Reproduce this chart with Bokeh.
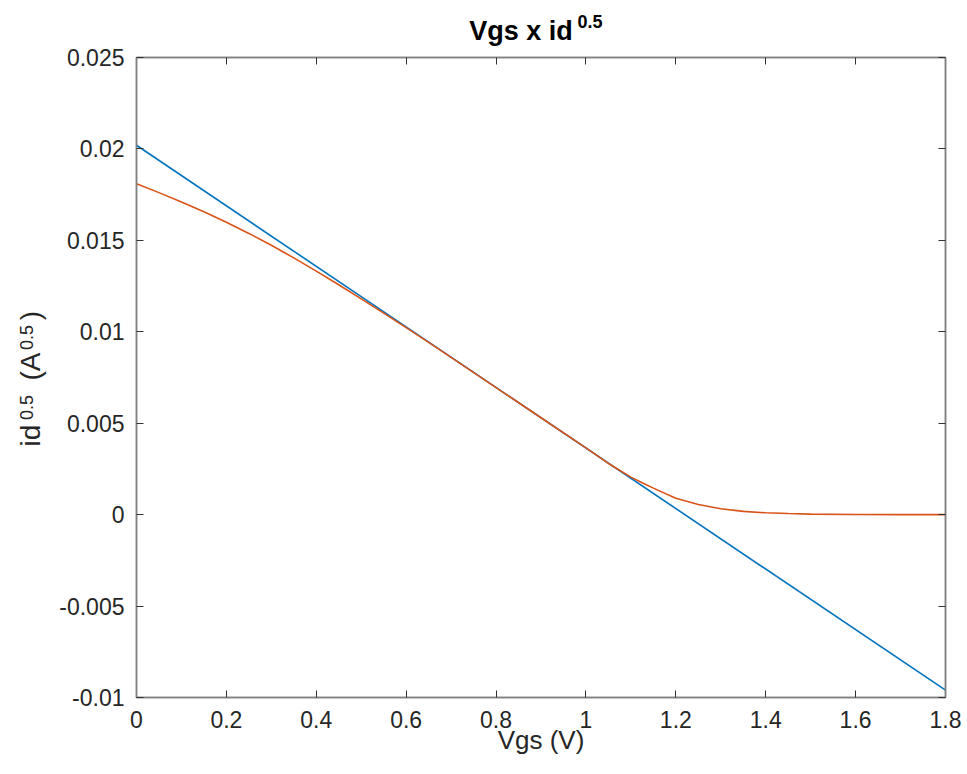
import math
from bokeh.plotting import figure
from bokeh.layouts import column, row
from bokeh.models import Range1d, FixedTicker, LinearAxis, CustomJSTickFormatter
from bokeh.core.properties import value
from bokeh.embed import file_html
from bokeh.resources import INLINE

# ---- data ----
vgs_blue = [0.0, 1.8]
id_blue = [0.0202, -0.0096]

vgs_red = [0.0, 0.05, 0.1, 0.15, 0.2, 0.25, 0.3, 0.35, 0.4, 0.45, 0.5, 0.55,
           0.6, 0.65, 0.7, 0.8, 0.9, 1.0, 1.05, 1.1, 1.125, 1.15, 1.2, 1.25,
           1.3, 1.35, 1.4, 1.45, 1.5, 1.6, 1.7, 1.8]
id_red = [0.0181, 0.01761, 0.01710, 0.01656, 0.01599, 0.01538, 0.01473,
          0.01404, 0.01332, 0.01257, 0.01180, 0.01102, 0.01023, 0.00942,
          0.0086, 0.00695, 0.0053, 0.00365, 0.0028, 0.00205, 0.00174,
          0.00145, 0.0009, 0.00055, 0.00032, 0.00018, 0.0001, 0.00006,
          0.00003, 0.00001, 0.0, 0.0]

x_ticks = [0.0, 0.2, 0.4, 0.6, 0.8, 1.0, 1.2, 1.4, 1.6, 1.8]
x_tick_labels = ["0", "0.2", "0.4", "0.6", "0.8", "1", "1.2", "1.4", "1.6", "1.8"]
y_ticks = [-0.01, -0.005, 0.0, 0.005, 0.01, 0.015, 0.02, 0.025]
y_tick_labels = ["-0.01", "-0.005", "0", "0.005", "0.01", "0.015", "0.02", "0.025"]

# ---- layout (page pixels) ----
PAGE_W, PAGE_H = 967, 774
FRAME_L, FRAME_T, FRAME_R, FRAME_B = 134, 57, 945, 697
TOP_H = 47          # title strip
LEFT_W = 56         # y-label strip
FONT = "Liberation Sans"
AX_GRAY = "#808080"
TXT = "#262626"

def text_strip(width, height, xr, yr):
    """A bare figure used only to hold text, in page-pixel coordinates."""
    f = figure(width=width, height=height, output_backend="svg",
               toolbar_location=None, x_axis_type=None, y_axis_type=None,
               x_range=Range1d(*xr), y_range=Range1d(*yr),
               min_border=0, title=None)
    f.grid.visible = False
    f.outline_line_color = None
    f.border_fill_color = "white"
    f.background_fill_color = "white"
    return f

# title strip: "Vgs x id" + superscript "0.5" (centre anchored)
top = text_strip(PAGE_W, TOP_H, (0, PAGE_W), (TOP_H, 0))
top.text(x=[520.5], y=[30.6], text=["Vgs x id"], text_font=value(FONT),
         text_font_size="27px", text_font_style="bold", text_color="#000000",
         text_align="center", text_baseline="middle")
top.text(x=[589.5], y=[20.5], text=["0.5"], text_font=value(FONT),
         text_font_size="18px", text_font_style="bold", text_color="#000000",
         text_align="center", text_baseline="middle")

# y-label strip: its frame is aligned with the main frame (rows align frames)
left = text_strip(LEFT_W, PAGE_H - TOP_H, (0, LEFT_W), (FRAME_B, FRAME_T))
rot = math.pi / 2
left.text(x=[29.5, 29.5, 29.5], y=[435, 366, 315], text=["id", "(A", ")"],
          text_font=value(FONT), text_font_size="28px", text_color=TXT,
          angle=rot, text_align="center", text_baseline="middle")
left.text(x=[26, 26], y=[407, 337], text=["0.5", "0.5"],
          text_font=value(FONT), text_font_size="18px", text_color=TXT,
          angle=rot, text_align="center", text_baseline="middle")

# main plot
X0, X1 = 0.0, 1.8
Y0, Y1 = -0.01, 0.025
p = figure(width=PAGE_W - LEFT_W, height=PAGE_H - TOP_H, output_backend="svg",
           toolbar_location=None, x_range=Range1d(X0, X1),
           y_range=Range1d(Y0, Y1), title=None,
           min_border_left=FRAME_L - LEFT_W, min_border_right=PAGE_W - FRAME_R,
           min_border_top=FRAME_T - TOP_H, min_border_bottom=PAGE_H - FRAME_B)
p.grid.visible = False
p.outline_line_color = AX_GRAY
p.outline_line_width = 1.5
p.background_fill_color = "white"
p.border_fill_color = "white"

def style_axis(ax):
    ax.major_tick_in = 7
    ax.major_tick_out = 0
    ax.minor_tick_in = 0
    ax.minor_tick_out = 0
    ax.axis_line_color = AX_GRAY
    ax.axis_line_width = 1.5
    ax.major_tick_line_color = "#333333"
    ax.major_tick_line_width = 1
    ax.major_label_text_font = FONT
    ax.major_label_text_font_size = "23px"
    ax.major_label_text_color = TXT

xa = p.xaxis[0]
ya = p.yaxis[0]
xa.ticker = FixedTicker(ticks=x_ticks)
ya.ticker = FixedTicker(ticks=y_ticks)
xa.major_label_overrides = {t: s for t, s in zip(x_ticks, x_tick_labels)}
ya.major_label_overrides = {t: s for t, s in zip(y_ticks, y_tick_labels)}
style_axis(xa)
style_axis(ya)
xa.major_label_standoff = 13
ya.major_label_standoff = 12

xa.axis_label = "Vgs (V)"
xa.axis_label_text_font = FONT
xa.axis_label_text_font_size = "26px"
xa.axis_label_text_font_style = "normal"
xa.axis_label_text_color = TXT
xa.axis_label_standoff = -6

top_ax = LinearAxis(ticker=FixedTicker(ticks=x_ticks),
                    formatter=CustomJSTickFormatter(code="return ''"))
right_ax = LinearAxis(ticker=FixedTicker(ticks=y_ticks),
                      formatter=CustomJSTickFormatter(code="return ''"))
for ax in (top_ax, right_ax):
    style_axis(ax)
    ax.major_label_standoff = 0
    ax.major_label_text_font_size = "0px"
p.add_layout(top_ax, "above")
p.add_layout(right_ax, "right")

p.line(vgs_blue, id_blue, line_color="#0072BD", line_width=1.6)
p.line(vgs_red, id_red, line_color="#D95319", line_width=1.6)

layout = column(top, row(left, p, spacing=0), spacing=0)
open("out.html", "w").write(file_html(layout, INLINE))
